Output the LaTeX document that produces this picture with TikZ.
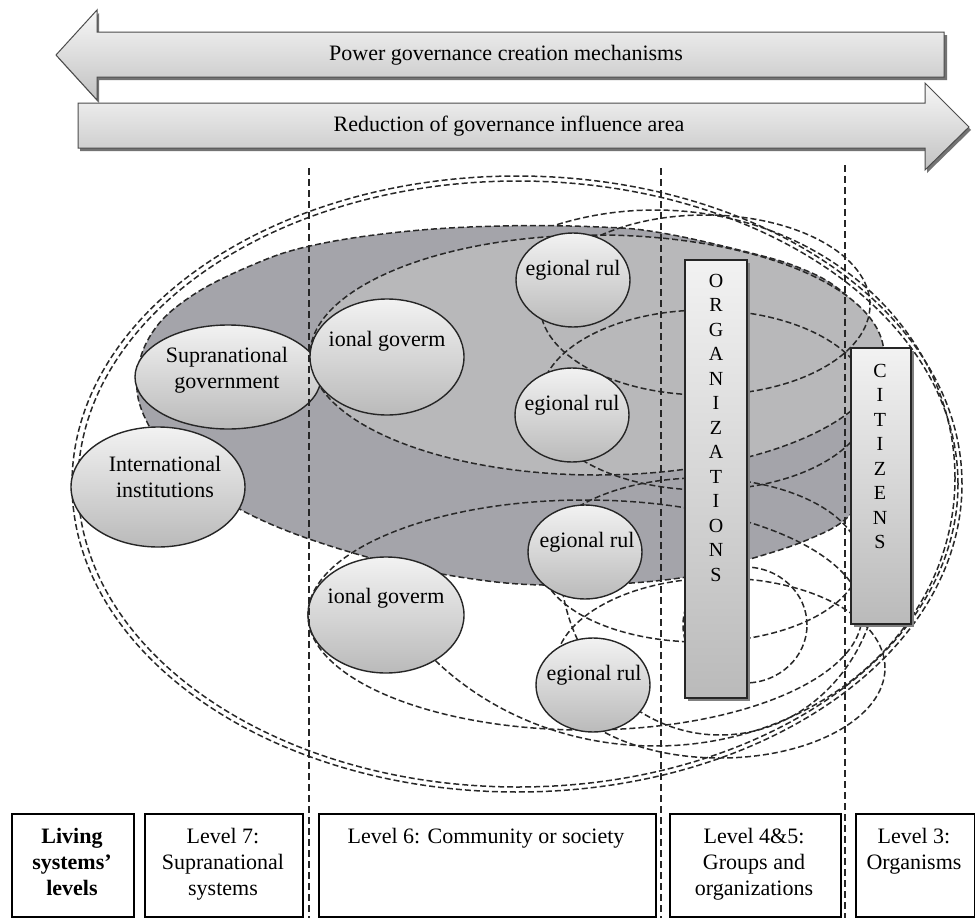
\documentclass[tikz,border=0pt]{standalone}
\usepackage{fontspec}
\setmainfont{Liberation Serif}
\usetikzlibrary{shapes.geometric}
\definecolor{darkzone}{RGB}{164,164,170}
\definecolor{lightzone}{RGB}{184,184,186}
\definecolor{dashgray}{RGB}{40,40,40}
\definecolor{ovaltop}{RGB}{242,242,242}
\definecolor{ovalbot}{RGB}{186,186,186}
\begin{document}
\begin{tikzpicture}[x=1pt,y=-1pt,
  zone/.style={draw=dashgray, line width=1.5pt, dash pattern=on 6pt off 3pt},
  oval/.style={ellipse, draw=black!85, line width=1.4pt, top color=ovaltop, bottom color=ovalbot, inner sep=0pt, outer sep=0pt},
  txt/.style={font=\fontsize{22}{26}\selectfont, inner sep=0pt, align=center},
  vtxt/.style={font=\fontsize{20}{24.5}\selectfont, inner sep=0pt, align=center, anchor=north},
  bar/.style={rectangle, draw=black!85, line width=1.5pt, top color=ovaltop, bottom color=ovalbot, inner sep=0pt},
  levelbox/.style={rectangle, draw=black, line width=1.6pt, fill=white, inner sep=0pt, anchor=north west},
  vline/.style={draw=black!85, line width=1.4pt, dash pattern=on 7pt off 4pt},
  band/.style={draw=black!70, line width=1pt, top color=black!3, bottom color=black!24},
  bandshadow/.style={fill=black!55}
]
\useasboundingbox (0,0) rectangle (975,918);
\fill[white] (0,0) rectangle (975,918);

% ---- outer influence areas (behind the shaded zone)
\draw[zone] (517,484) ellipse [x radius=445pt, y radius=308pt];
\draw[zone] (518,484) ellipse [x radius=440pt, y radius=303pt];
\draw[zone] (655,478) ellipse [x radius=300pt, y radius=268pt];
\draw[zone] (720,560) ellipse [x radius=160pt, y radius=175pt];

% ---- dark supranational zone
\path[zone, fill=darkzone] plot[smooth cycle, tension=0.65] coordinates {
  (137,378) (152,333) (190,297) (250,266) (310,246) (400,232) (500,226)
  (600,227) (662,233) (747,252) (800,268) (840,290) (870,325) (890,370)
  (893,420) (878,470) (850,515) (807,540) (740,562) (680,578) (580,585)
  (480,580) (360,555) (247,513) (178,462) (146,420)};

% ---- light national zone (upper group)
\draw[zone, fill=lightzone] (597,355) ellipse [x radius=287pt, y radius=120pt];

% ---- lower national zone and regional areas
\draw[zone] (585,615) ellipse [x radius=277pt, y radius=115pt];
\draw[zone] (705,305) ellipse [x radius=165pt, y radius=90pt];
\draw[zone] (705,400) ellipse [x radius=165pt, y radius=90pt];
\draw[zone] (700,560) ellipse [x radius=160pt, y radius=82pt];
\draw[zone] (720,668) ellipse [x radius=165pt, y radius=90pt];
\draw[zone] (745,625) ellipse [x radius=62pt, y radius=58pt];

% ---- governance actors
\node[oval, minimum width=186pt, minimum height=104pt] (sup) at (228,377) {};
\node[oval, minimum width=174pt, minimum height=120pt] (inst) at (158,487) {};
\node[oval, minimum width=154pt, minimum height=116pt] (nat1) at (387,357) {};
\node[oval, minimum width=156pt, minimum height=116pt] (nat2) at (386,615) {};
\node[oval, minimum width=114pt, minimum height=94pt] (reg1) at (573,280) {};
\node[oval, minimum width=114pt, minimum height=94pt] (reg2) at (572,415) {};
\node[oval, minimum width=114pt, minimum height=94pt] (reg3) at (585,552) {};
\node[oval, minimum width=114pt, minimum height=94pt] (reg4) at (593,685) {};

\node[txt] (suptxt) at (227,370) {Supranational\\government};
\node[txt] (insttxt) at (165,477) {International\\institutions};
\node[txt] (nat1txt) at (387,341) {ional goverm};
\node[txt] (nat2txt) at (386,598) {ional goverm};
\node[txt] (reg1txt) at (573,270) {egional rul};
\node[txt] (reg2txt) at (572,405) {egional rul};
\node[txt] (reg3txt) at (587,542) {egional rul};
\node[txt] (reg4txt) at (594,675) {egional rul};

% ---- vertical bars
\fill[black!50] (688,263) rectangle (750,701);
\node[bar, minimum width=62pt, minimum height=438pt] (org) at (716,479) {};
\node[vtxt] (orgtxt) at (716,274) {O\\R\\G\\A\\N\\I\\Z\\A\\T\\I\\O\\N\\S};
\fill[black!50] (854,351) rectangle (914,627);
\node[bar, minimum width=60pt, minimum height=276pt] (cit) at (881,486) {};
\node[vtxt] (cittxt) at (880,364) {C\\I\\T\\I\\Z\\E\\N\\S};

% ---- level separators
\draw[vline] (309,168) -- (309,918);
\draw[vline] (661,168) -- (661,918);
\draw[vline] (845,165) -- (845,918);

% ---- living systems levels
\node[levelbox, minimum width=122pt, minimum height=103pt] (lv1) at (11,813) {};
\node[levelbox, minimum width=158pt, minimum height=103pt] (lv2) at (144,813) {};
\node[levelbox, minimum width=337pt, minimum height=103pt] (lv3) at (318,813) {};
\node[levelbox, minimum width=171pt, minimum height=103pt] (lv4) at (669,813) {};
\node[levelbox, minimum width=119pt, minimum height=103pt] (lv5) at (855,813) {};

\node[txt, anchor=north] (lv1txt) at (72,828) {\bfseries Living\\\bfseries systems’\\\bfseries levels};
\node[txt, anchor=north] (lv2txt) at (223,828) {Level 7:\\Supranational\\systems};
\node[txt, anchor=north] (lv3txt) at (486,828) {Level 6: Community or society};
\node[txt, anchor=north] (lv4txt) at (754,828) {Level 4\&5:\\Groups and\\organizations};
\node[txt, anchor=north] (lv5txt) at (914,828) {Level 3:\\Organisms};

% ---- direction bands
\fill[bandshadow] (58,58) -- (99,13) -- (99,35) -- (947,35) -- (947,80) -- (99,80) -- (99,103) -- cycle;
\path[band] (56,55) -- (97,10) -- (97,32) -- (944,32) -- (944,77) -- (97,77) -- (97,100) -- cycle;
\fill[bandshadow] (80,106) -- (927,106) -- (927,86) -- (971,130) -- (927,173) -- (927,151) -- (80,151) -- cycle;
\path[band] (78,103) -- (925,103) -- (925,83) -- (969,127) -- (925,170) -- (925,148) -- (78,148) -- cycle;

\node[txt] (pwr) at (506,55) {Power governance creation mechanisms};
\node[txt] (red) at (509,126) {Reduction of governance influence area};
\end{tikzpicture}
\end{document}
